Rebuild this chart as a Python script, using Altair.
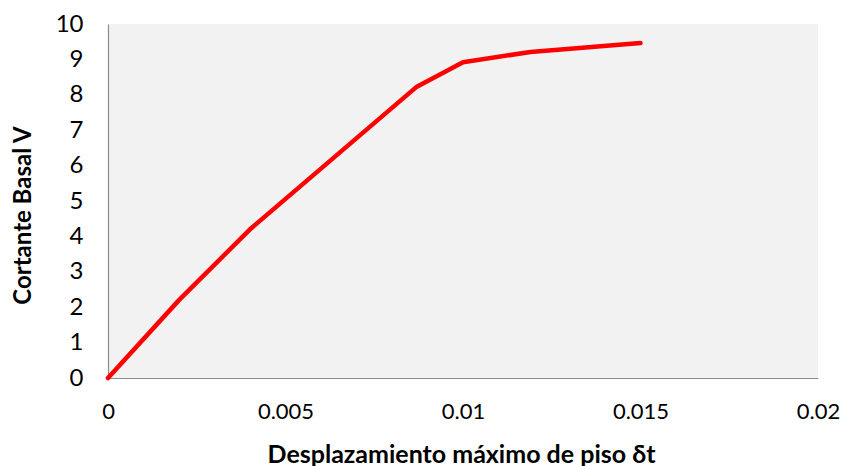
import altair as alt
import pandas as pd

desplazamiento = [0.0, 0.002, 0.004, 0.0087, 0.010, 0.0119, 0.0150]
cortante = [0.0, 2.2, 4.2, 8.23, 8.92, 9.21, 9.46]

df = pd.DataFrame({"d": desplazamiento, "v": cortante})

FONT = "Lato"

chart = alt.Chart(df).mark_line(
    color="#FF0000", strokeWidth=4.5, strokeCap="round", strokeJoin="round"
).encode(
    x=alt.X("d:Q", scale=alt.Scale(domain=[0, 0.02], nice=False),
            axis=alt.Axis(title="Desplazamiento máximo de piso δt",
                          values=[0, 0.005, 0.01, 0.015, 0.02],
                          format="~g", grid=False, ticks=False,
                          domainColor="#8C8C8C", domainWidth=1.2,
                          labelFont=FONT, labelFontSize=22, labelColor="#000000",
                          labelPadding=23, labelFlush=False,
                          titleFont=FONT, titleFontSize=25, titleFontWeight="bold",
                          titleColor="#000000", titleX=353, titleY=84,
                          titleBaseline="alphabetic", titleAlign="center")),
    y=alt.Y("v:Q", scale=alt.Scale(domain=[0, 10], nice=False),
            axis=alt.Axis(title="Cortante Basal V",
                          values=list(range(0, 11)),
                          grid=False, ticks=False,
                          domainColor="#8C8C8C", domainWidth=1.2,
                          labelFont=FONT, labelFontSize=24, labelColor="#000000",
                          labelPadding=25, labelFlush=False,
                          titleFont=FONT, titleFontSize=24, titleFontWeight="bold",
                          titleColor="#000000", titleAngle=270,
                          titleX=-85, titleY=191,
                          titleBaseline="middle", titleAlign="center")),
).properties(
    width=710, height=354,
    autosize=alt.AutoSizeParams(type="none"),
    padding={"left": 100, "top": 16, "right": 23, "bottom": 88},
    background="#FFFFFF",
).configure_view(
    fill="#F2F2F2", stroke=None
)

chart.save("out.html", embed_options={"renderer": "svg", "actions": False})
